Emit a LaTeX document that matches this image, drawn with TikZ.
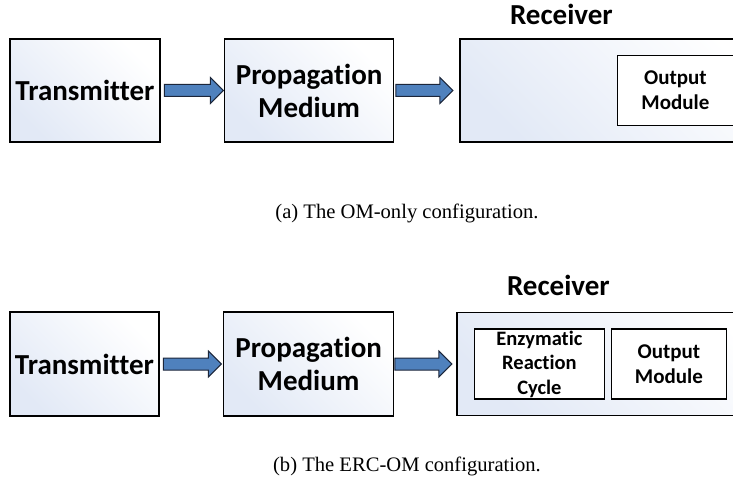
\documentclass[tikz,border=0pt]{standalone}
\usepackage{fontspec}
\setmainfont{Liberation Serif}
\setsansfont[Ligatures={NoCommon}]{Carlito}
\usetikzlibrary{positioning,shapes.arrows,calc}
\definecolor{boxtint}{RGB}{226,233,246}
\definecolor{arrowfill}{RGB}{79,129,189}
\definecolor{arrowline}{RGB}{28,38,58}
\tikzset{
    % outer blocks with a light blue gradient
    blk/.style={
           draw=black,
           line width=1.6pt,
           left color=boxtint,
           right color=white,
           shading angle=135,
           minimum height=\blockheight,
           inner sep=0pt,
           align=center,
           font=\sffamily\bfseries\fontsize{29}{33}\selectfont},
    % blocks inside the receiver
    sub/.style={
           draw=black,
           line width=1.6pt,
           fill=white,
           minimum height=\subheight,
           inner sep=0pt,
           align=center,
           font=\sffamily\bfseries\fontsize{21}{25}\selectfont},
    % block arrow between stages
    pipe/.style={
           single arrow,
           draw=arrowline,
           fill=arrowfill,
           line width=1pt,
           single arrow head extend=7pt,
           single arrow head indent=0pt,
           inner xsep=0pt,
           inner ysep=5.5pt},
    title/.style={font=\sffamily\bfseries\fontsize{29}{33}\selectfont},
    captxt/.style={font=\fontsize{20.6}{24}\selectfont}
}
\newcommand{\blockheight}{103pt}
\newcommand{\subheight}{70pt}

\begin{document}
\begin{tikzpicture}[x=1pt, y=-1pt, node distance=0pt]
\useasboundingbox (0,0) rectangle (733,486);
\clip (0,0) rectangle (733,486);

% (a) OM-only
\node[blk, minimum width=150pt] (tx) at (85,90.5) {Transmitter};
\node[pipe, minimum height=59pt] (a1) [right = 3pt of tx] {};
\node[blk, minimum width=169pt] (pm) [right = 63pt of tx] {Propagation\\Medium};
\node[pipe, minimum height=57pt] (a2) [right = 1pt of pm] {};
\node[blk, minimum width=320pt] (rx) [right = 65pt of pm] {};
\node[title] (rxlab) at ($(rx.north west)+(102,-24)$) {Receiver};
\node[sub, minimum width=116pt] (om) at ($(rx.west)+(216,0)$) {Output\\Module};
\node[captxt] (capa) at (407,213) {(a) The OM-only configuration.};

% (b) ERC-OM
\node[blk, minimum width=149pt, minimum height=104pt] (txb) at (84.5,364) {Transmitter};
\node[pipe, minimum height=58pt] (b1) [right = 3pt of txb] {};
\node[blk, minimum width=170pt, minimum height=104pt] (pmb) [right = 63pt of txb] {Propagation\\Medium};
\node[pipe, minimum height=57pt] (b2) [right = 0pt of pmb] {};
\node[blk, minimum width=320pt] (rxb) [right = 62pt of pmb] {};
\node[title] (rxblab) at ($(rxb.north west)+(102,-26)$) {Receiver};
\node[sub, minimum width=130pt, font=\sffamily\bfseries\fontsize{20.5}{24.5}\selectfont] (erc) at ($(rxb.west)+(83,0)$) {Enzymatic\\Reaction\\Cycle};
\node[sub, minimum width=115pt] (omb) at ($(rxb.west)+(212.5,0)$) {Output\\Module};
\node[captxt] (capb) at (407,466) {(b) The ERC-OM configuration.};

\end{tikzpicture}
\end{document}
